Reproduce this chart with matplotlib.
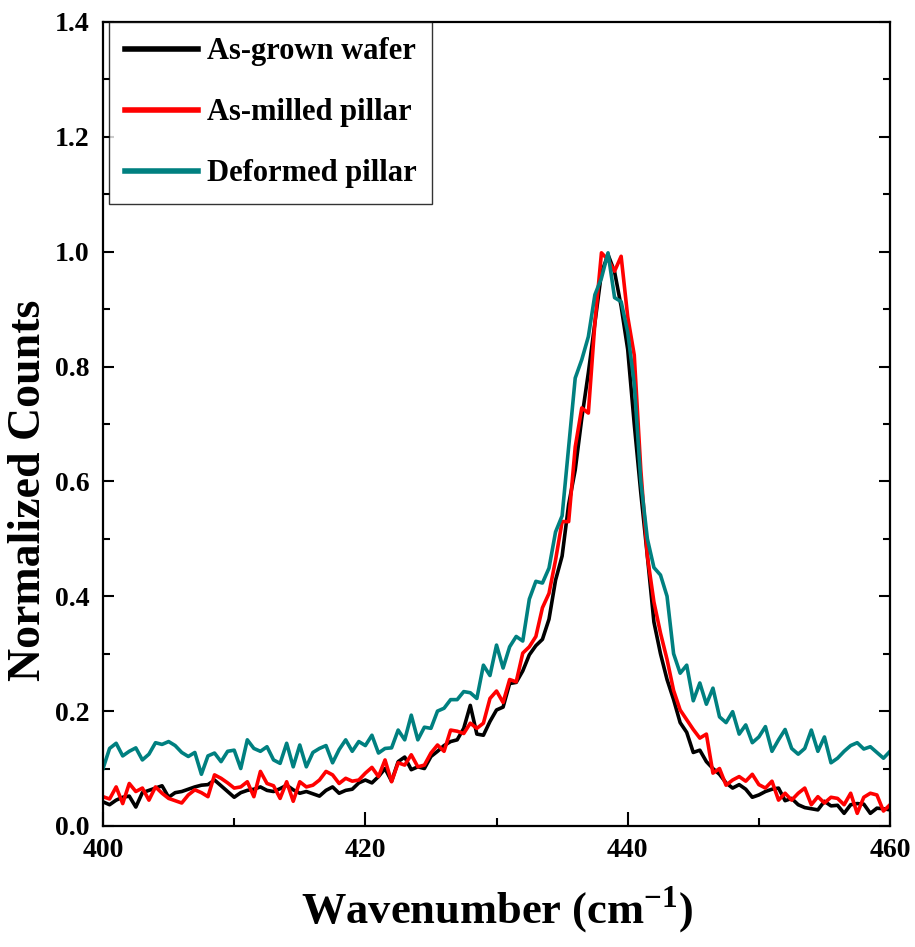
import numpy as np
import matplotlib
matplotlib.use('Agg')
import matplotlib.pyplot as plt
from matplotlib.ticker import MultipleLocator, FormatStrFormatter

plt.rcParams['font.family'] = ['Liberation Serif', 'DejaVu Serif']
plt.rcParams['font.weight'] = 'bold'
plt.rcParams['mathtext.fontset'] = 'custom'
plt.rcParams['mathtext.rm'] = 'Liberation Serif:bold'
plt.rcParams['mathtext.bf'] = 'Liberation Serif:bold'

# wavenumber grid (cm^-1), 0.5 step
wavenumber = np.arange(400.0, 460.01, 0.5)

as_grown = [
    0.042, 0.037, 0.045, 0.050, 0.052, 0.033, 0.058, 0.062, 0.066, 0.070,
    0.050, 0.058, 0.060, 0.064, 0.068, 0.071, 0.072, 0.080, 0.070, 0.060,
    0.050, 0.058, 0.062, 0.064, 0.068, 0.062, 0.060, 0.065, 0.071, 0.063,
    0.057, 0.060, 0.056, 0.052, 0.062, 0.068, 0.057, 0.062, 0.064, 0.075,
    0.080, 0.075, 0.086, 0.100, 0.078, 0.112, 0.120, 0.098, 0.103, 0.100,
    0.121, 0.130, 0.140, 0.147, 0.150, 0.170, 0.210, 0.160, 0.158, 0.182,
    0.202, 0.207, 0.248, 0.250, 0.270, 0.298, 0.314, 0.325, 0.360, 0.428,
    0.470, 0.560, 0.620, 0.710, 0.789, 0.876, 0.963, 0.995, 0.965, 0.905,
    0.830, 0.700, 0.580, 0.470, 0.355, 0.300, 0.255, 0.220, 0.180, 0.163,
    0.128, 0.132, 0.112, 0.100, 0.090, 0.075, 0.066, 0.072, 0.064, 0.050,
    0.054, 0.060, 0.064, 0.066, 0.044, 0.048, 0.037, 0.032, 0.030, 0.028,
    0.043, 0.035, 0.036, 0.022, 0.037, 0.039, 0.038, 0.022, 0.031, 0.030,
    0.028,
]

as_milled = [
    0.051, 0.047, 0.068, 0.039, 0.074, 0.060, 0.066, 0.045, 0.068, 0.057,
    0.048, 0.044, 0.040, 0.054, 0.063, 0.058, 0.051, 0.089, 0.083, 0.075,
    0.066, 0.068, 0.077, 0.051, 0.095, 0.074, 0.070, 0.048, 0.077, 0.043,
    0.077, 0.068, 0.071, 0.080, 0.095, 0.089, 0.074, 0.083, 0.078, 0.080,
    0.092, 0.102, 0.086, 0.115, 0.077, 0.110, 0.106, 0.124, 0.103, 0.106,
    0.127, 0.141, 0.130, 0.167, 0.165, 0.161, 0.179, 0.170, 0.179, 0.222,
    0.235, 0.215, 0.255, 0.251, 0.301, 0.312, 0.330, 0.380, 0.405, 0.463,
    0.530, 0.530, 0.660, 0.728, 0.719, 0.876, 0.998, 0.986, 0.966, 0.992,
    0.887, 0.820, 0.620, 0.470, 0.390, 0.336, 0.290, 0.236, 0.202, 0.185,
    0.168, 0.153, 0.160, 0.092, 0.100, 0.071, 0.080, 0.086, 0.078, 0.090,
    0.072, 0.066, 0.078, 0.045, 0.057, 0.045, 0.057, 0.066, 0.037, 0.051,
    0.040, 0.050, 0.048, 0.037, 0.057, 0.022, 0.050, 0.057, 0.054, 0.026,
    0.037,
]

deformed = [
    0.100, 0.135, 0.144, 0.122, 0.130, 0.136, 0.115, 0.125, 0.145, 0.142,
    0.147, 0.140, 0.128, 0.121, 0.128, 0.090, 0.122, 0.127, 0.112, 0.130,
    0.132, 0.100, 0.150, 0.135, 0.130, 0.138, 0.115, 0.109, 0.144, 0.103,
    0.141, 0.103, 0.128, 0.135, 0.140, 0.110, 0.133, 0.150, 0.130, 0.147,
    0.140, 0.158, 0.127, 0.135, 0.136, 0.167, 0.150, 0.193, 0.150, 0.172,
    0.170, 0.200, 0.205, 0.220, 0.220, 0.234, 0.232, 0.222, 0.280, 0.262,
    0.315, 0.275, 0.312, 0.330, 0.322, 0.395, 0.426, 0.423, 0.449, 0.512,
    0.540, 0.660, 0.780, 0.812, 0.852, 0.925, 0.954, 0.998, 0.920, 0.913,
    0.860, 0.770, 0.600, 0.500, 0.450, 0.437, 0.400, 0.300, 0.266, 0.280,
    0.218, 0.249, 0.212, 0.240, 0.190, 0.180, 0.199, 0.160, 0.176, 0.145,
    0.155, 0.173, 0.130, 0.150, 0.168, 0.135, 0.125, 0.135, 0.167, 0.130,
    0.155, 0.110, 0.118, 0.130, 0.140, 0.145, 0.134, 0.138, 0.128, 0.118,
    0.130,
]

labels = ['As-grown wafer', 'As-milled pillar', 'Deformed pillar']
colors = ['#000000', '#ff0000', '#008080']

fig = plt.figure(figsize=(9.15, 9.47), dpi=100)
ax = fig.add_axes([0.1126, 0.1278, 0.8601, 0.849])

for series, label, color in zip([as_grown, as_milled, deformed], labels, colors):
    ax.plot(wavenumber, series, color=color, lw=2.6, label=label)

ax.set_xlim(400, 460)
ax.set_ylim(0, 1.4)
ax.xaxis.set_major_locator(MultipleLocator(20))
ax.xaxis.set_minor_locator(MultipleLocator(10))
ax.yaxis.set_major_locator(MultipleLocator(0.2))
ax.yaxis.set_minor_locator(MultipleLocator(0.1))
ax.yaxis.set_major_formatter(FormatStrFormatter('%.1f'))

for s in ax.spines.values():
    s.set_linewidth(1.6)

ax.tick_params(axis='x', which='major', direction='in', length=10, width=1.5,
               labelsize=20, pad=9, top=False)
ax.tick_params(axis='x', which='minor', direction='in', length=6, width=1.5, top=False)
ax.tick_params(axis='y', which='major', direction='in', length=8, width=1.5,
               labelsize=20, pad=10, right=True)
ax.tick_params(axis='y', which='minor', direction='in', length=5, width=1.5, right=True)

ax.set_xlabel(r'Wavenumber (cm$^{-1}$)', fontsize=32, fontweight='bold', labelpad=15)
ax.set_ylabel('Normalized Counts', fontsize=33, fontweight='bold')
ax.yaxis.set_label_coords(-0.068, 0.418)

leg = ax.legend(loc='upper left', bbox_to_anchor=(0.008, 1.0), borderaxespad=0,
                fontsize=22, frameon=True, fancybox=False, handlelength=2.4,
                handletextpad=0.3, labelspacing=1.05, borderpad=0.5)
leg.get_frame().set_edgecolor('black')
leg.get_frame().set_linewidth(1.0)
for line in leg.get_lines():
    line.set_linewidth(4)

plt.savefig('out.png', dpi=100)
